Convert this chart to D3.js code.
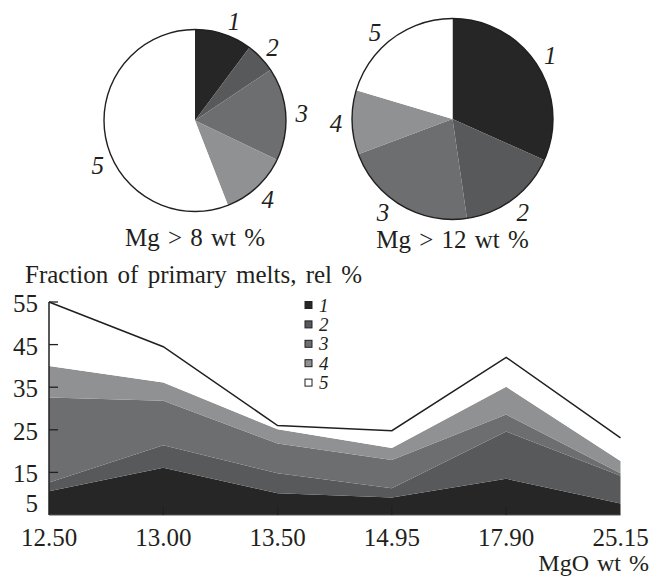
<!DOCTYPE html>
<html>
<head>
<meta charset="utf-8">
<script src="https://cdn.jsdelivr.net/npm/d3@7"></script>
<style>
  html, body { margin: 0; padding: 0; background: #fff; }
  svg { display: block; }
</style>
</head>
<body>
<svg id="chart" width="661" height="578"></svg>
<script>
// ---------------- data ----------------
const categories = ["12.50", "13.00", "13.50", "14.95", "17.90", "25.15"];
const seriesNames = ["1", "2", "3", "4", "5"];
const series1 = [10.6, 16.1, 10.1, 9.1, 13.5, 7.7];
const series2 = [2.0, 5.3, 4.7, 2.2, 11.1, 6.5];
const series3 = [20.0, 10.4, 7.0, 6.6, 4.0, 0.6];
const series4 = [7.4, 4.3, 3.3, 2.8, 6.5, 2.9];
const series5 = [15.0, 8.4, 0.9, 4.1, 6.9, 5.4];
const yTicks = [5, 15, 25, 35, 45, 55];

const pie1Values = [10.2, 5.4, 16.5, 12.0, 55.9];
const pie2Values = [31.7, 16.0, 21.6, 10.3, 20.4];
const pie1Title = "Mg > 8 wt %";
const pie2Title = "Mg > 12 wt %";
const yTitle = "Fraction of primary melts, rel %";
const xTitle = "MgO wt %";

// ---------------- style ----------------
const FONT = "'Liberation Serif', Tinos, 'Times New Roman', Times, 'DejaVu Serif', serif";
const INK = "#231f20";
const colors = ["#262626", "#58595b", "#6d6e70", "#909193", "#ffffff"];
const svg = d3.select("#chart");

function txt(sel) {
  return sel.attr("font-family", FONT).attr("fill", INK);
}

// ---------------- pies ----------------
function drawPie(values, cx, cy, r, title, titleY, labelNudge) {
  const g = svg.append("g").attr("transform", `translate(${cx},${cy})`);
  const pie = d3.pie().sort(null).value(d => d)(values);
  const arc = d3.arc().innerRadius(0).outerRadius(r);
  g.selectAll("path.slice").data(pie).join("path")
    .attr("class", "slice")
    .attr("d", arc)
    .attr("fill", (d, i) => colors[i]);
  g.append("circle").attr("r", r).attr("fill", "none")
    .attr("stroke", INK).attr("stroke-width", 1.4);
  const lr = r + 16;
  g.selectAll("text.lbl").data(pie).join("text")
    .attr("class", "lbl")
    .each(function (d, i) {
      const a = (d.startAngle + d.endAngle) / 2 + (labelNudge[i] || 0) * Math.PI / 180;
      d3.select(this)
        .attr("x", Math.sin(a) * lr)
        .attr("y", -Math.cos(a) * lr);
    })
    .attr("dy", "0.35em")
    .attr("text-anchor", "middle")
    .attr("font-style", "italic")
    .attr("font-size", 25)
    .call(txt)
    .text((d, i) => seriesNames[i]);
  svg.append("text")
    .attr("x", cx).attr("y", titleY)
    .attr("text-anchor", "middle")
    .attr("font-size", 25)
    .attr("word-spacing", 2)
    .call(txt)
    .text(title);
}
drawPie(pie1Values, 195, 120.5, 91, pie1Title, 246, [3, 0, 0, 0, -14]);
drawPie(pie2Values, 452.5, 119, 100.5, pie2Title, 248, [0, 0, 6, 0, -5]);

// ---------------- stacked area ----------------
const x = d3.scalePoint().domain(categories).range([49, 620.5]);
const y = d3.scaleLinear().domain([5, 55]).range([515, 302]).clamp(true);

const allSeries = [series1, series2, series3, series4, series5];
const rows = categories.map((c, i) => {
  const o = { cat: c };
  seriesNames.forEach((s, k) => { o[s] = allSeries[k][i]; });
  return o;
});
const stacked = d3.stack().keys(seriesNames)(rows);

const area = d3.area()
  .x(d => x(d.data.cat))
  .y0(d => y(d[0]))
  .y1(d => y(d[1]));

const plot = svg.append("g");
plot.selectAll("path.layer").data(stacked).join("path")
  .attr("class", "layer")
  .attr("d", area)
  .attr("fill", (d, i) => colors[i]);

// top line of series 5
const line = d3.line().x(d => x(d.data.cat)).y(d => y(d[1]));
plot.append("path")
  .attr("d", line(stacked[stacked.length - 1]))
  .attr("fill", "none")
  .attr("stroke", INK)
  .attr("stroke-width", 1.5);

// axes
const axisG = svg.append("g");
axisG.append("line")
  .attr("x1", x.range()[0]).attr("x2", x.range()[0])
  .attr("y1", y(55)).attr("y2", y(5))
  .attr("stroke", INK).attr("stroke-width", 1.5);
axisG.append("line")
  .attr("x1", x.range()[0]).attr("x2", x.range()[1])
  .attr("y1", y(5)).attr("y2", y(5))
  .attr("stroke", "#555").attr("stroke-width", 1);

axisG.selectAll("line.ytick").data(yTicks.filter(v => v > 5)).join("line")
  .attr("class", "ytick")
  .attr("x1", x.range()[0]).attr("x2", x.range()[0] + 9)
  .attr("y1", d => y(d)).attr("y2", d => y(d))
  .attr("stroke", INK).attr("stroke-width", 1.3);
axisG.selectAll("text.ylab").data(yTicks).join("text")
  .attr("class", "ylab")
  .attr("x", 38)
  .attr("y", d => y(d) + (d === 5 ? -13 : 0))
  .attr("dy", "0.4em")
  .attr("text-anchor", "end")
  .attr("font-size", 25)
  .call(txt)
  .text(d => d);

axisG.selectAll("line.xtick").data(categories.slice(1, -1)).join("line")
  .attr("class", "xtick")
  .attr("x1", d => x(d)).attr("x2", d => x(d))
  .attr("y1", y(5)).attr("y2", y(5) - 9)
  .attr("stroke", INK).attr("stroke-width", 1.2);
axisG.selectAll("text.xlab").data(categories).join("text")
  .attr("class", "xlab")
  .attr("x", d => x(d))
  .attr("y", 546)
  .attr("text-anchor", "middle")
  .attr("font-size", 25)
  .call(txt)
  .text(d => d);

svg.append("text")
  .attr("x", 25).attr("y", 283)
  .attr("font-size", 25)
  .attr("word-spacing", 3)
  .call(txt)
  .text(yTitle);
svg.append("text")
  .attr("x", 649).attr("y", 571)
  .attr("text-anchor", "end")
  .attr("font-size", 24)
  .attr("word-spacing", 2)
  .call(txt)
  .text(xTitle);

// legend
const legend = svg.append("g");
const lg = legend.selectAll("g").data(seriesNames).join("g")
  .attr("transform", (d, i) => `translate(305,${305 + i * 19.4})`);
lg.append("rect")
  .attr("x", 0).attr("y", -3.5).attr("width", 7).attr("height", 7)
  .attr("fill", (d, i) => colors[i])
  .attr("stroke", INK).attr("stroke-width", 1);
lg.append("text")
  .attr("x", 14).attr("y", 0).attr("dy", "0.35em")
  .attr("font-size", 19)
  .attr("font-style", "italic")
  .call(txt)
  .text(d => d);
</script>
</body>
</html>
